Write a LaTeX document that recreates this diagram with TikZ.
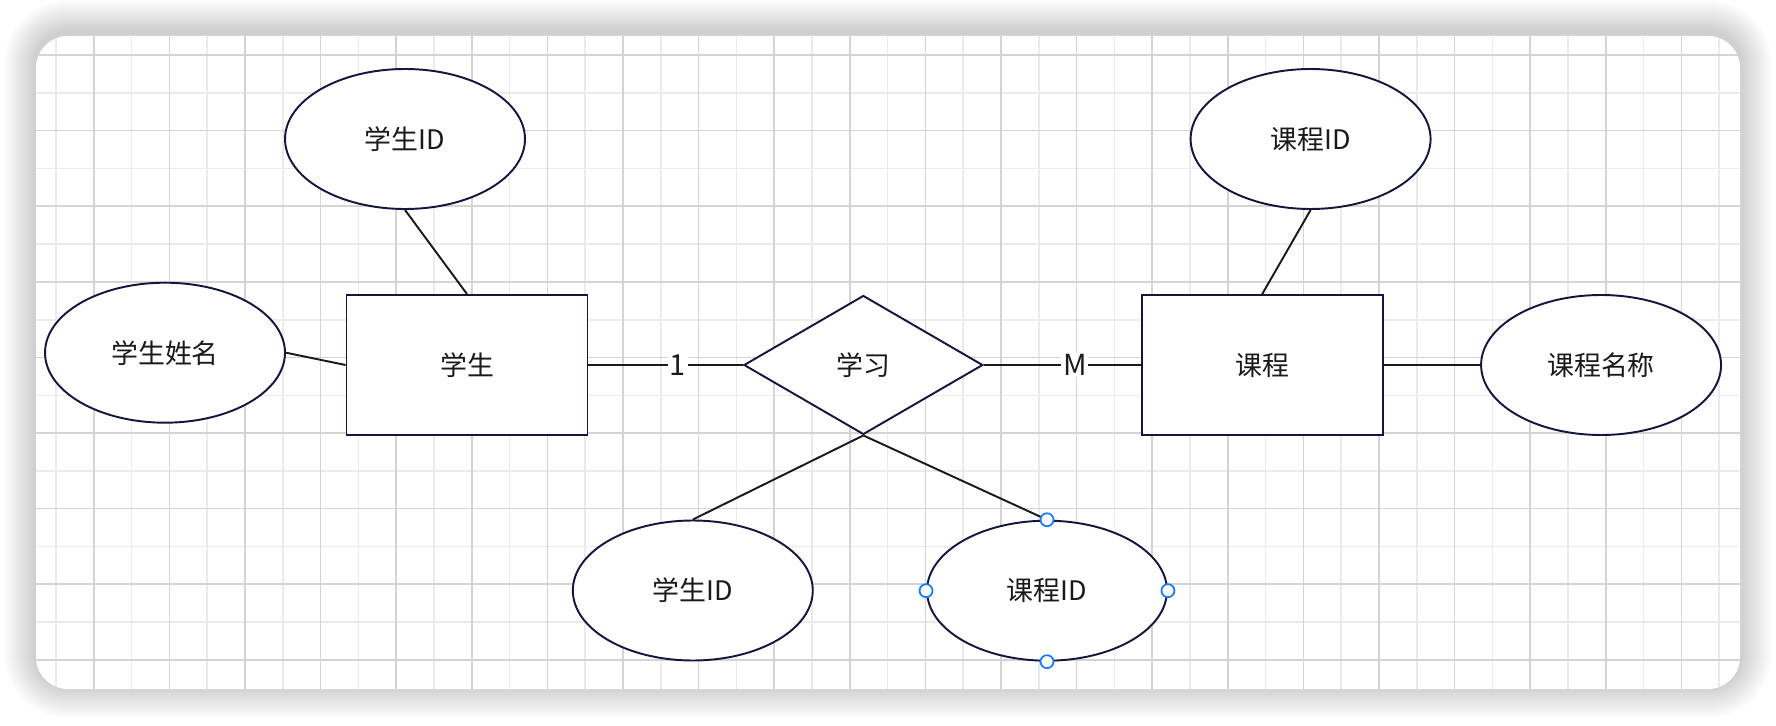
\documentclass[tikz,border=0pt]{standalone}
\usepackage{fontspec}
\setmainfont{Noto Sans CJK SC}
\usetikzlibrary{positioning,shapes.geometric}
\definecolor{ink}{HTML}{15163D}
\definecolor{wire}{HTML}{1A1A1A}
\definecolor{gridmajor}{HTML}{D4D4D4}
\definecolor{gridminor}{HTML}{EBEBEB}
\definecolor{handle}{HTML}{1A7CF5}
\tikzset{
  entity/.style={draw=ink, line width=1.1pt, fill=white, rectangle, align=center,
    minimum width=4.82cm, minimum height=2.8cm, inner sep=0pt,
    font=\fontsize{15.3}{17}\selectfont, text=wire},
  attr/.style={entity, ellipse, minimum width=4.8cm, minimum height=2.8cm},
  relation/.style={entity, diamond, minimum width=4.78cm, minimum height=2.78cm},
  conn/.style={draw=wire, line width=1.1pt},
  mult/.style={fill=white, inner sep=1pt, font=\fontsize{16.5}{18}\selectfont, text=wire},
  handledot/.style={circle, draw=handle, fill=white, line width=1pt,
    minimum size=0.26cm, inner sep=0pt}
}

\begin{document}
\begin{tikzpicture}[x=0.02cm, y=-0.02cm]
    \useasboundingbox (0,0) rectangle (1776,726);
    % card with soft shadow
    \foreach \s in {1,...,16} {
      \pgfmathsetmacro\rr{0.64+0.04*\s}
      \fill[black, opacity=0.013, rounded corners=\rr cm]
        ({36-2*\s},{32-2*\s}) rectangle ({1740+2*\s},{686+2*\s});
    }
    \fill[white, rounded corners=0.64cm] (36,36) rectangle (1740,689);
    \begin{scope}
      \clip[rounded corners=0.64cm] (36,36) rectangle (1740,689);
      \foreach \k in {0,...,22}
        \draw[gridminor, line width=0.9pt] ({56+75.6*\k},36) -- ({56+75.6*\k},689);
      \foreach \k in {0,...,7}
        \draw[gridminor, line width=0.9pt] (36,{93+75.6*\k}) -- (1740,{93+75.6*\k});
      \foreach \k in {0,...,21}
        \draw[gridmajor, line width=0.9pt] ({93.8+75.6*\k},36) -- ({93.8+75.6*\k},689);
      \foreach \k in {0,...,8}
        \draw[gridmajor, line width=0.9pt] (36,{55+75.6*\k}) -- (1740,{55+75.6*\k});
    \end{scope}

    \node[entity] (stu) at (467,365) {学生};
    \node[relation, right=3.09cm of stu] (study) {学习};
    \node[entity, right=3.14cm of study] (course) {课程};
    \node[attr, right=1.93cm of course] (cname) {课程名称};
    \node[attr] (sid) at (405,139) {学生ID};
    \node[attr] (sname) at (165,352.7) {学生姓名};
    \node[attr] (cid) at (1310.6,139) {课程ID};
    \node[attr] (lsid) at (692.8,590.5) {学生ID};
    \node[attr] (lcid) at (1047,590.7) {课程ID};

    \draw[conn] (stu) -- node[mult, pos=0.58] (one) {1} (study);
    \draw[conn] (study) -- node[mult, pos=0.58] (many) {M} (course);
    \draw[conn] (course) -- (cname);
    \draw[conn] (sid.south) -- (stu.north);
    \draw[conn] (sname.east) -- (stu.west);
    \draw[conn] (cid.south) -- (course.north);
    \draw[conn] (study.south) -- (lsid.north);
    \draw[conn] (study.south) -- (lcid.north);

    % selection handles
    \foreach \a in {north,south,east,west}
      \node[handledot] (h-\a) at (lcid.\a) {};
\end{tikzpicture}
\end{document}
